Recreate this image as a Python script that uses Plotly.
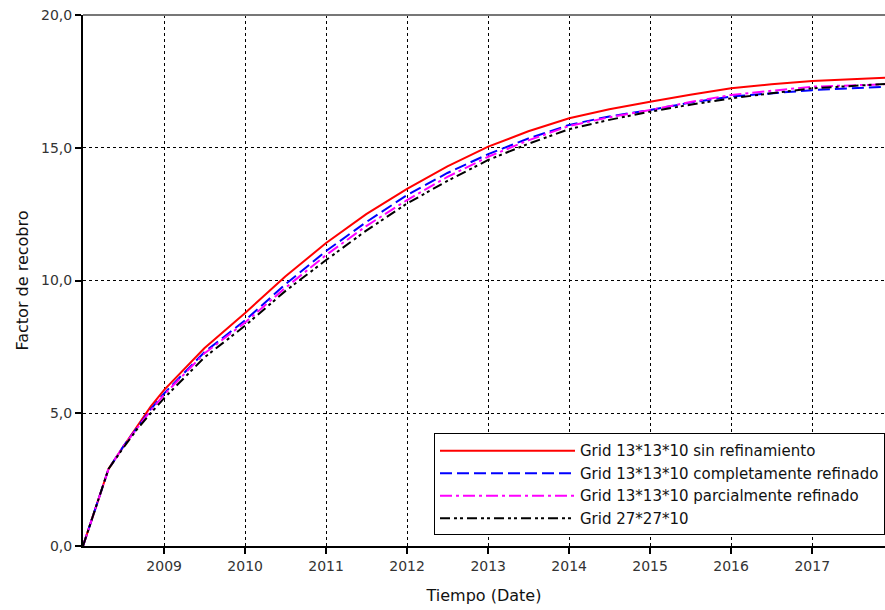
import plotly.graph_objects as go

dates = ["2008-01-01", "2008-04-25", "2008-07-01", "2008-09-01", "2008-11-01",
         "2009-01-01", "2009-07-01", "2010-01-01", "2010-07-01", "2011-01-01",
         "2011-07-01", "2012-01-01", "2012-07-01", "2013-01-01", "2013-07-01",
         "2014-01-01", "2014-07-01", "2015-01-01", "2015-07-01", "2016-01-01",
         "2016-07-01", "2017-01-01", "2017-11-25"]

red = [0, 2.9, 3.75, 4.5, 5.25, 5.88, 7.45, 8.78, 10.15, 11.41, 12.5, 13.45, 14.3,
       15.04, 15.62, 16.11, 16.45, 16.73, 17.0, 17.24, 17.39, 17.51, 17.64]
blue = [0, 2.9, 3.75, 4.45, 5.15, 5.75, 7.3, 8.5, 9.85, 11.11, 12.2, 13.22, 14.05,
        14.76, 15.35, 15.86, 16.18, 16.42, 16.7, 16.93, 17.05, 17.17, 17.3]
magenta = [0, 2.9, 3.75, 4.45, 5.1, 5.7, 7.25, 8.42, 9.72, 10.96, 12.05, 13.03, 13.9,
           14.66, 15.28, 15.82, 16.15, 16.42, 16.72, 16.99, 17.15, 17.3, 17.39]
black = [0, 2.9, 3.7, 4.4, 5.0, 5.57, 7.1, 8.3, 9.6, 10.77, 11.88, 12.9, 13.75,
         14.54, 15.15, 15.7, 16.05, 16.36, 16.62, 16.86, 17.05, 17.24, 17.4]

x_ticks = ["2009-01-01", "2010-01-01", "2011-01-01", "2012-01-01", "2013-01-01",
           "2014-01-01", "2015-01-01", "2016-01-01", "2017-01-01"]
x_ticklabels = ["2009", "2010", "2011", "2012", "2013", "2014", "2015", "2016", "2017"]
y_ticks = [0, 5, 10, 15, 20]
y_ticklabels = ["0,0", "5,0", "10,0", "15,0", "20,0"]

names = ["Grid 13*13*10 sin refinamiento",
         "Grid 13*13*10 completamente refinado",
         "Grid 13*13*10 parcialmente refinado",
         "Grid 27*27*10"]
colors = ["#ff0000", "#0000ff", "#ff00ff", "#000000"]
dashes = ["solid", "12px,5px", "12px,4px,3px,4px", "10px,4px,3px,3px,3px,4px"]
series = [red, blue, magenta, black]

fig = go.Figure()
for s, n, c, d in zip(series, names, colors, dashes):
    fig.add_trace(go.Scatter(x=dates, y=s, name=n, mode="lines",
                             line=dict(color=c, width=2, dash=d)))

font = "DejaVu Sans"
fig.update_layout(
    width=885, height=610,
    margin=dict(l=83, r=0, t=15, b=64, autoexpand=False),
    paper_bgcolor="white", plot_bgcolor="white",
    font=dict(family=font, size=13, color="#333"),
    showlegend=True,
    legend=dict(x=1, y=0.02, xanchor="right", yanchor="bottom",
                bgcolor="white", bordercolor="#000", borderwidth=1,
                font=dict(family=font, size=15, color="#111"),
                itemwidth=135, tracegroupgap=0),
)
fig.update_xaxes(
    type="date", range=["2008-01-01", "2017-11-25"],
    tickmode="array", tickvals=x_ticks, ticktext=x_ticklabels,
    showgrid=True, gridcolor="#000", gridwidth=1, griddash="3px,3px",
    showline=True, linecolor="#000", linewidth=2,
    ticks="outside", ticklen=6, tickwidth=2, tickcolor="#000",
    tickfont=dict(size=14, color="#333"),
    title=dict(text="Tiempo (Date)", font=dict(size=16, color="#111"), standoff=17),
    zeroline=False, automargin=False,
)
fig.update_yaxes(
    range=[0, 20], tickmode="array", tickvals=y_ticks, ticktext=y_ticklabels,
    showgrid=True, gridcolor="#000", gridwidth=1, griddash="3px,3px",
    showline=True, linecolor="#000", linewidth=2,
    ticks="outside", ticklen=6, tickwidth=2, tickcolor="#000",
    tickfont=dict(size=14, color="#333"),
    title=dict(text="Factor de recobro", font=dict(size=16, color="#111"), standoff=8),
    zeroline=False, automargin=False,
)
fig.add_shape(type="line", xref="paper", yref="paper", x0=0, x1=1, y0=1, y1=1,
              line=dict(color="#777", width=2))
fig.write_html("out.html", config={"displayModeBar": False},
               post_script="document.body.style.margin='0px';")
